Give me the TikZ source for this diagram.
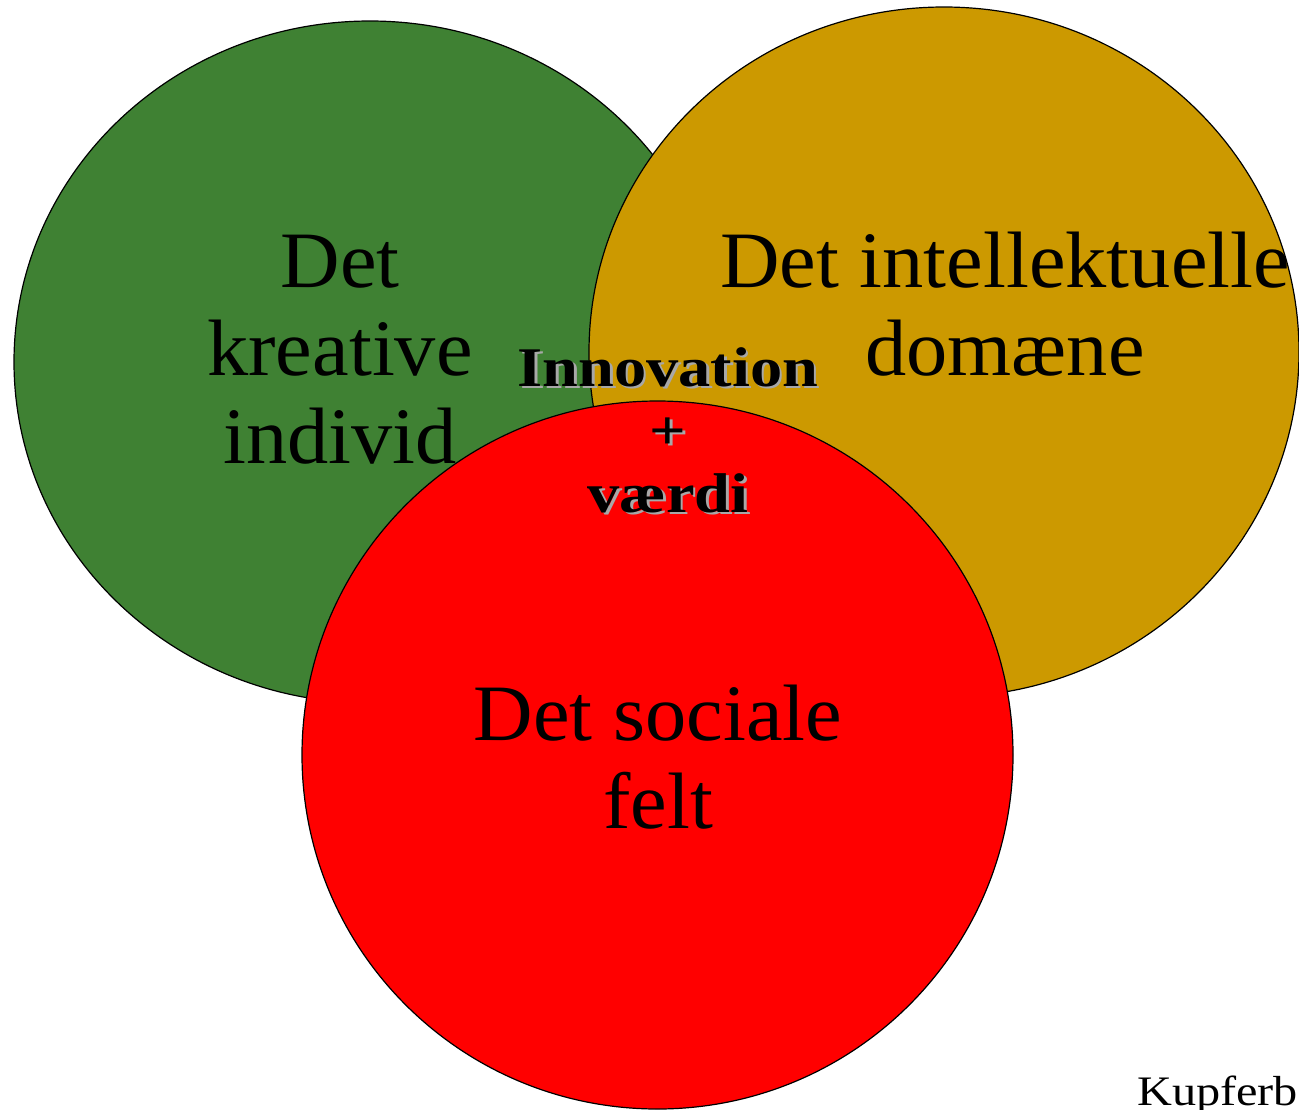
\documentclass[tikz,border=0pt]{standalone}
\usepackage{fontspec}
\setmainfont{Liberation Serif}
\newfontfamily\widefont[FakeStretch=1.03]{Liberation Serif}
\newfontfamily\widerfont[FakeStretch=1.15]{Liberation Serif}
\definecolor{cgreen}{HTML}{3F8133}
\definecolor{cgold}{HTML}{CC9900}
\definecolor{cred}{HTML}{FF0000}
\definecolor{cshadow}{HTML}{A8A8A8}
\begin{document}
\begin{tikzpicture}[x=1pt,y=-1pt,
  blob/.style={draw=black,line width=1.2pt},
  bigtxt/.style={font=\widefont\fontsize{80}{88}\selectfont,anchor=base,inner sep=0pt},
  midtxt/.style={font=\widerfont\fontsize{56}{60}\selectfont\bfseries,anchor=base,inner sep=0pt},
  shtxt/.style={midtxt,text=cshadow},
  smalltxt/.style={font=\widerfont\fontsize{42}{44}\selectfont,anchor=base west,inner sep=0pt}]
\useasboundingbox (0,0) rectangle (1299,1109);
\fill[white] (0,0) rectangle (1299,1109);
\draw[blob,fill=cgreen] (370,362) ellipse [x radius=356,y radius=341];
\draw[blob,fill=cgold] (944,352) ellipse [x radius=355,y radius=345];
\draw[blob,fill=cred] (657.5,755) ellipse [x radius=355.5,y radius=354];
% texts
\node[bigtxt] (k1) at (340,287) {Det};
\node[bigtxt] (k2) at (340,375) {kreative};
\node[bigtxt] (k3) at (340,463) {individ};
\node[bigtxt] (i1) at (1005,287) {Det intellektuelle};
\node[bigtxt] (i2) at (1005,375) {domæne};
\node[bigtxt] (s1) at (658,740) {Det sociale};
\node[bigtxt] (s2) at (658,828) {felt};
\node[shtxt] (n1s) at (670.5,388.5) {Innovation};
\node[shtxt] (n2s) at (670.5,451.5) {+};
\node[shtxt] (n3s) at (670.5,514.5) {værdi};
\node[midtxt] (n1) at (668,386) {Innovation};
\node[midtxt] (n2) at (668,449) {+};
\node[midtxt] (n3) at (668,512) {værdi};
\node[smalltxt] (src) at (1137,1105) {Kupferberg};
\end{tikzpicture}
\end{document}
